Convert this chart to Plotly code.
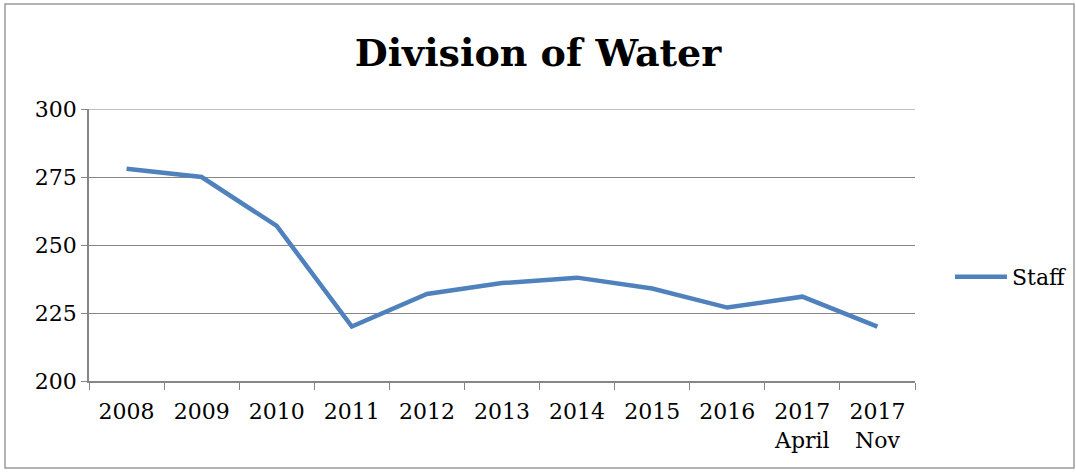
import plotly.graph_objects as go

categories = ["2008", "2009", "2010", "2011", "2012", "2013", "2014", "2015", "2016", "2017<br>April", "2017<br>Nov"]
staff = [278, 275, 257, 220, 232, 236, 238, 234, 227, 231, 220]
y_ticks = [200, 225, 250, 275, 300]

W, H = 1076, 472
L, R, T, B = 89, 161, 109, 91
pw, ph = W - L - R, H - T - B

def px_x(p):
    return (p - L) / pw

def px_y(p):
    return (H - B - p) / ph

font_family = "DejaVu Serif"
grid_color = "#868686"

fig = go.Figure()
fig.add_trace(go.Scatter(
    x=categories, y=staff, mode="lines", name="Staff",
    line=dict(color="#4F81BD", width=4.5),
))

fig.update_layout(
    width=W, height=H,
    margin=dict(l=L, r=R, t=T, b=B, autoexpand=False),
    paper_bgcolor="white", plot_bgcolor="white",
    title=dict(text="<b>Division of Water</b>", x=0.5, xanchor="center",
               y=1 - 53 / H, yanchor="middle",
               font=dict(family=font_family, size=38, color="black")),
    font=dict(family=font_family, size=22, color="black"),
    showlegend=True,
    legend=dict(x=px_x(950), y=px_y(277), xanchor="left", yanchor="middle",
                font=dict(family=font_family, size=22, color="black"),
                itemwidth=52, bgcolor="rgba(0,0,0,0)"),
    xaxis=dict(type="category", range=[-0.5, 10.5], showgrid=False,
               showline=True, linecolor=grid_color, linewidth=1.5,
               ticks="outside", tickson="boundaries", ticklen=7, tickcolor=grid_color,
               ticklabelstandoff=10,
               tickfont=dict(family=font_family, size=22, color="black"),
               fixedrange=True),
    yaxis=dict(range=[y_ticks[0], y_ticks[-1]], tickvals=y_ticks, showgrid=True,
               gridcolor=grid_color, gridwidth=1.2,
               showline=True, linecolor=grid_color, linewidth=1.5,
               ticks="outside", ticklen=6, tickcolor=grid_color,
               tickfont=dict(family=font_family, size=22, color="black"),
               zeroline=False, fixedrange=True),
    shapes=[
        dict(type="rect", xref="paper", yref="paper",
             x0=px_x(5), x1=px_x(1074), y0=px_y(468), y1=px_y(4),
             line=dict(color="#9a9a9a", width=1.5), layer="below"),
        dict(type="line", xref="paper", yref="y", x0=0, x1=1,
             y0=y_ticks[-1], y1=y_ticks[-1],
             line=dict(color=grid_color, width=1.2), layer="below"),
    ],
)

fig.write_html("out.html", post_script="document.body.style.margin='0px';",
               config={"displayModeBar": False})
